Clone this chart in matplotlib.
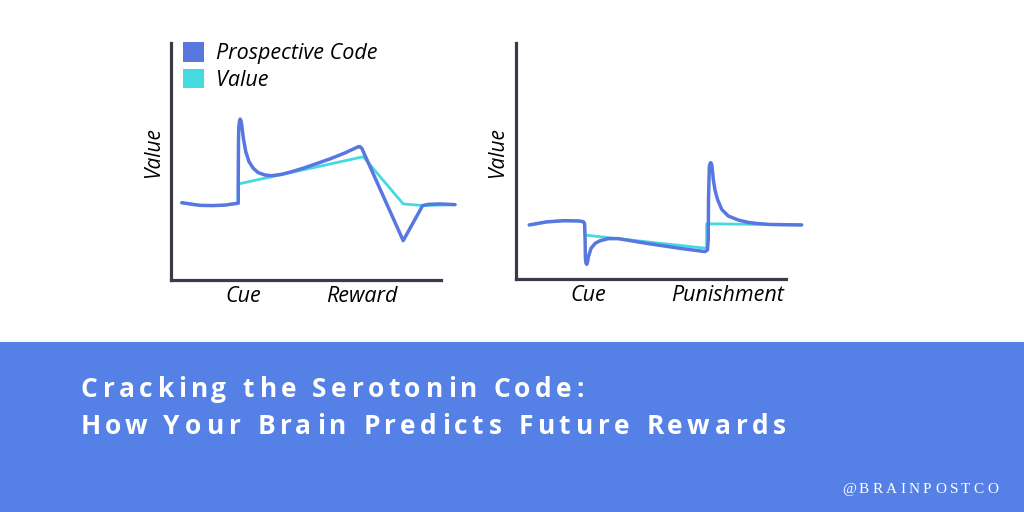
import matplotlib
matplotlib.use('Agg')
import matplotlib.pyplot as plt
from matplotlib.patches import Patch, Rectangle
from matplotlib.transforms import IdentityTransform
from matplotlib.font_manager import FontProperties, findfont, get_font

# ---------------- data (time 0-100, value 0-100 per panel) ----------------
reward_pc_t = [4.0, 7.0, 10.7, 15.6, 20.0, 23.0, 24.9, 24.9, 25.0, 25.1, 25.3, 25.6,
               25.9, 26.2, 26.8, 27.7, 28.9, 30.5, 32.3, 34.8, 37.3, 41.0, 44.7, 49.6,
               53.1, 58.9, 64.4, 69.3, 70.0, 70.7, 86.0, 93.2, 95.2, 99.6, 105.2]
reward_pc_v = [32.6, 32.1, 31.5, 31.4, 31.6, 32.1, 32.4, 42.2, 59.1, 64.1, 66.7, 67.9,
               67.3, 65.4, 59.8, 54.1, 49.9, 47.1, 45.3, 44.3, 44.0, 44.6, 45.7, 47.4,
               48.8, 51.1, 53.6, 56.2, 56.3, 55.5, 16.6, 31.4, 31.9, 32.1, 31.8]
reward_val_t = [4.0, 7.0, 10.7, 15.6, 20.0, 23.0, 24.9, 24.9, 71.2, 86.0, 93.4, 105.2]
reward_val_v = [32.6, 32.1, 31.5, 31.4, 31.6, 32.1, 32.4, 40.5, 52.0, 32.1, 31.4, 31.8]

punish_pc_t = [4.9, 11.4, 17.5, 23.1, 24.9, 25.4, 25.6, 25.7, 25.9, 26.2, 26.5, 26.8,
               27.8, 29.3, 31.1, 34.2, 37.9, 48.4, 60.7, 70.0, 70.9, 71.2, 71.3, 71.6,
               71.9, 72.1, 72.4, 72.6, 73.1, 73.7, 74.7, 76.2, 78.6, 82.3, 86.0, 88.5,
               94.1, 105.8]
punish_pc_v = [22.9, 24.2, 24.7, 24.6, 24.3, 23.3, 16.5, 8.9, 6.8, 6.2, 7.2, 9.4,
               13.0, 15.1, 16.2, 17.1, 17.1, 15.1, 13.0, 11.6, 12.3, 16.5, 33.5, 47.6,
               48.9, 49.3, 48.8, 47.6, 41.9, 37.7, 33.5, 29.5, 26.7, 25.0, 24.0, 23.6,
               23.1, 22.9]
punish_val_t = [4.9, 11.4, 17.5, 23.1, 24.9, 25.4, 25.6, 70.6, 70.6, 105.8]
punish_val_v = [22.9, 24.2, 24.7, 24.6, 24.3, 23.9, 18.6, 13.0, 23.4, 22.9]

reward_ticks = [26.7, 70.6]
reward_tick_labels = ["Cue", "Reward"]
punish_ticks = [26.7, 78.5]
punish_tick_labels = ["Cue", "Punishment"]
legend_labels = ["Prospective Code", "Value"]
ylabel_text = "Value"
title_lines = ["Cracking the Serotonin Code:", "How Your Brain Predicts Future Rewards"]
handle_text = "@BRAINPOSTCO"

# ---------------- style ----------------
BLUE = '#5878E0'
CYAN = '#45D9E0'
AXIS = '#3A3A48'
BANNER = '#5581E6'
W, H = 1024, 512

fig = plt.figure(figsize=(10.24, 5.12), dpi=100)
fig.patch.set_facecolor('white')

hand = FontProperties(family=['Open Sans', 'DejaVu Sans'], style='italic', size=15.5)
hand_y = FontProperties(family=['Open Sans', 'DejaVu Sans'], style='italic', size=15)


def rect(l, r, top, bottom):
    return [l / W, 1 - bottom / H, (r - l) / W, (bottom - top) / H]


ax1 = fig.add_axes(rect(171, 441, 43, 280))
ax2 = fig.add_axes(rect(516, 786, 43, 279))

panels = [
    (ax1, reward_pc_t, reward_pc_v, reward_val_t, reward_val_v, reward_ticks, reward_tick_labels),
    (ax2, punish_pc_t, punish_pc_v, punish_val_t, punish_val_v, punish_ticks, punish_tick_labels),
]
for ax, pt, pv, vt, vv, tks, tls in panels:
    ax.set_xlim(0, 100)
    ax.set_ylim(0, 100)
    ax.patch.set_alpha(0)
    for s in ['top', 'right']:
        ax.spines[s].set_visible(False)
    for s in ['left', 'bottom']:
        ax.spines[s].set_color(AXIS)
        ax.spines[s].set_linewidth(2.3)
    ax.plot(vt, vv, color=CYAN, lw=2.0, clip_on=False, solid_joinstyle='round',
            solid_capstyle='round', zorder=2)
    ax.plot(pt, pv, color=BLUE, lw=2.5, clip_on=False, solid_joinstyle='round',
            solid_capstyle='round', zorder=3)
    ax.set_yticks([])
    ax.set_xticks(tks, tls, fontproperties=hand, color='black')
    ax.tick_params(axis='x', length=0, pad=4.5)

ax1.text(-0.063, 0.536, ylabel_text, rotation=90, ha='center', va='center',
         fontproperties=hand_y, transform=ax1.transAxes)
ax2.text(-0.069, 0.534, ylabel_text, rotation=90, ha='center', va='center',
         fontproperties=hand_y, transform=ax2.transAxes)

handles = [Patch(facecolor=BLUE, edgecolor='none'), Patch(facecolor=CYAN, edgecolor='none')]
ax1.legend(handles, legend_labels, loc='upper left', bbox_to_anchor=(0.044, 1.003),
           frameon=False, prop=hand, handlelength=1.0, handleheight=1.0,
           handletextpad=0.55, labelspacing=0.22, borderpad=0, borderaxespad=0)

# ---------------- banner ----------------
fig.add_artist(Rectangle((0, 0), 1, (H - 342) / H, transform=fig.transFigure,
                         facecolor=BANNER, edgecolor='none', zorder=0))


def spaced_text(s, x_left, x_right, baseline_top, fp, color):
    font = get_font(findfont(fp))
    font.set_size(fp.get_size_in_points(), fig.dpi)
    advs, bears = [], []
    for c in s:
        g = font.load_char(ord(c))
        advs.append(g.linearHoriAdvance / 65536)
        bears.append(g.horiBearingX / 64)
    lastg = font.load_char(ord(s[-1]))
    natural = sum(advs[:-1]) + bears[-1] + lastg.width / 64 - bears[0]
    sp = (x_right - x_left - natural) / (len(s) - 1)
    pen = x_left - bears[0]
    y = H - baseline_top
    for i, c in enumerate(s):
        if c != ' ':
            fig.text(pen + bears[i], y, c, fontproperties=fp, color=color,
                     ha='left', va='baseline', transform=IdentityTransform())
        pen += advs[i] + sp
    return sp


title_fp = FontProperties(family=['Open Sans', 'DejaVu Sans'], weight='bold', size=19)
spaced_text(title_lines[0], 81.0, 581.0, 397, title_fp, 'white')
spaced_text(title_lines[1], 81.0, 784.0, 434, title_fp, 'white')

serif_fp = FontProperties(family=['Liberation Serif', 'DejaVu Serif'], size=11)
spaced_text(handle_text, 842, 997, 492.7, serif_fp, 'white')

fig.savefig('out.png', dpi=100, facecolor='white')
